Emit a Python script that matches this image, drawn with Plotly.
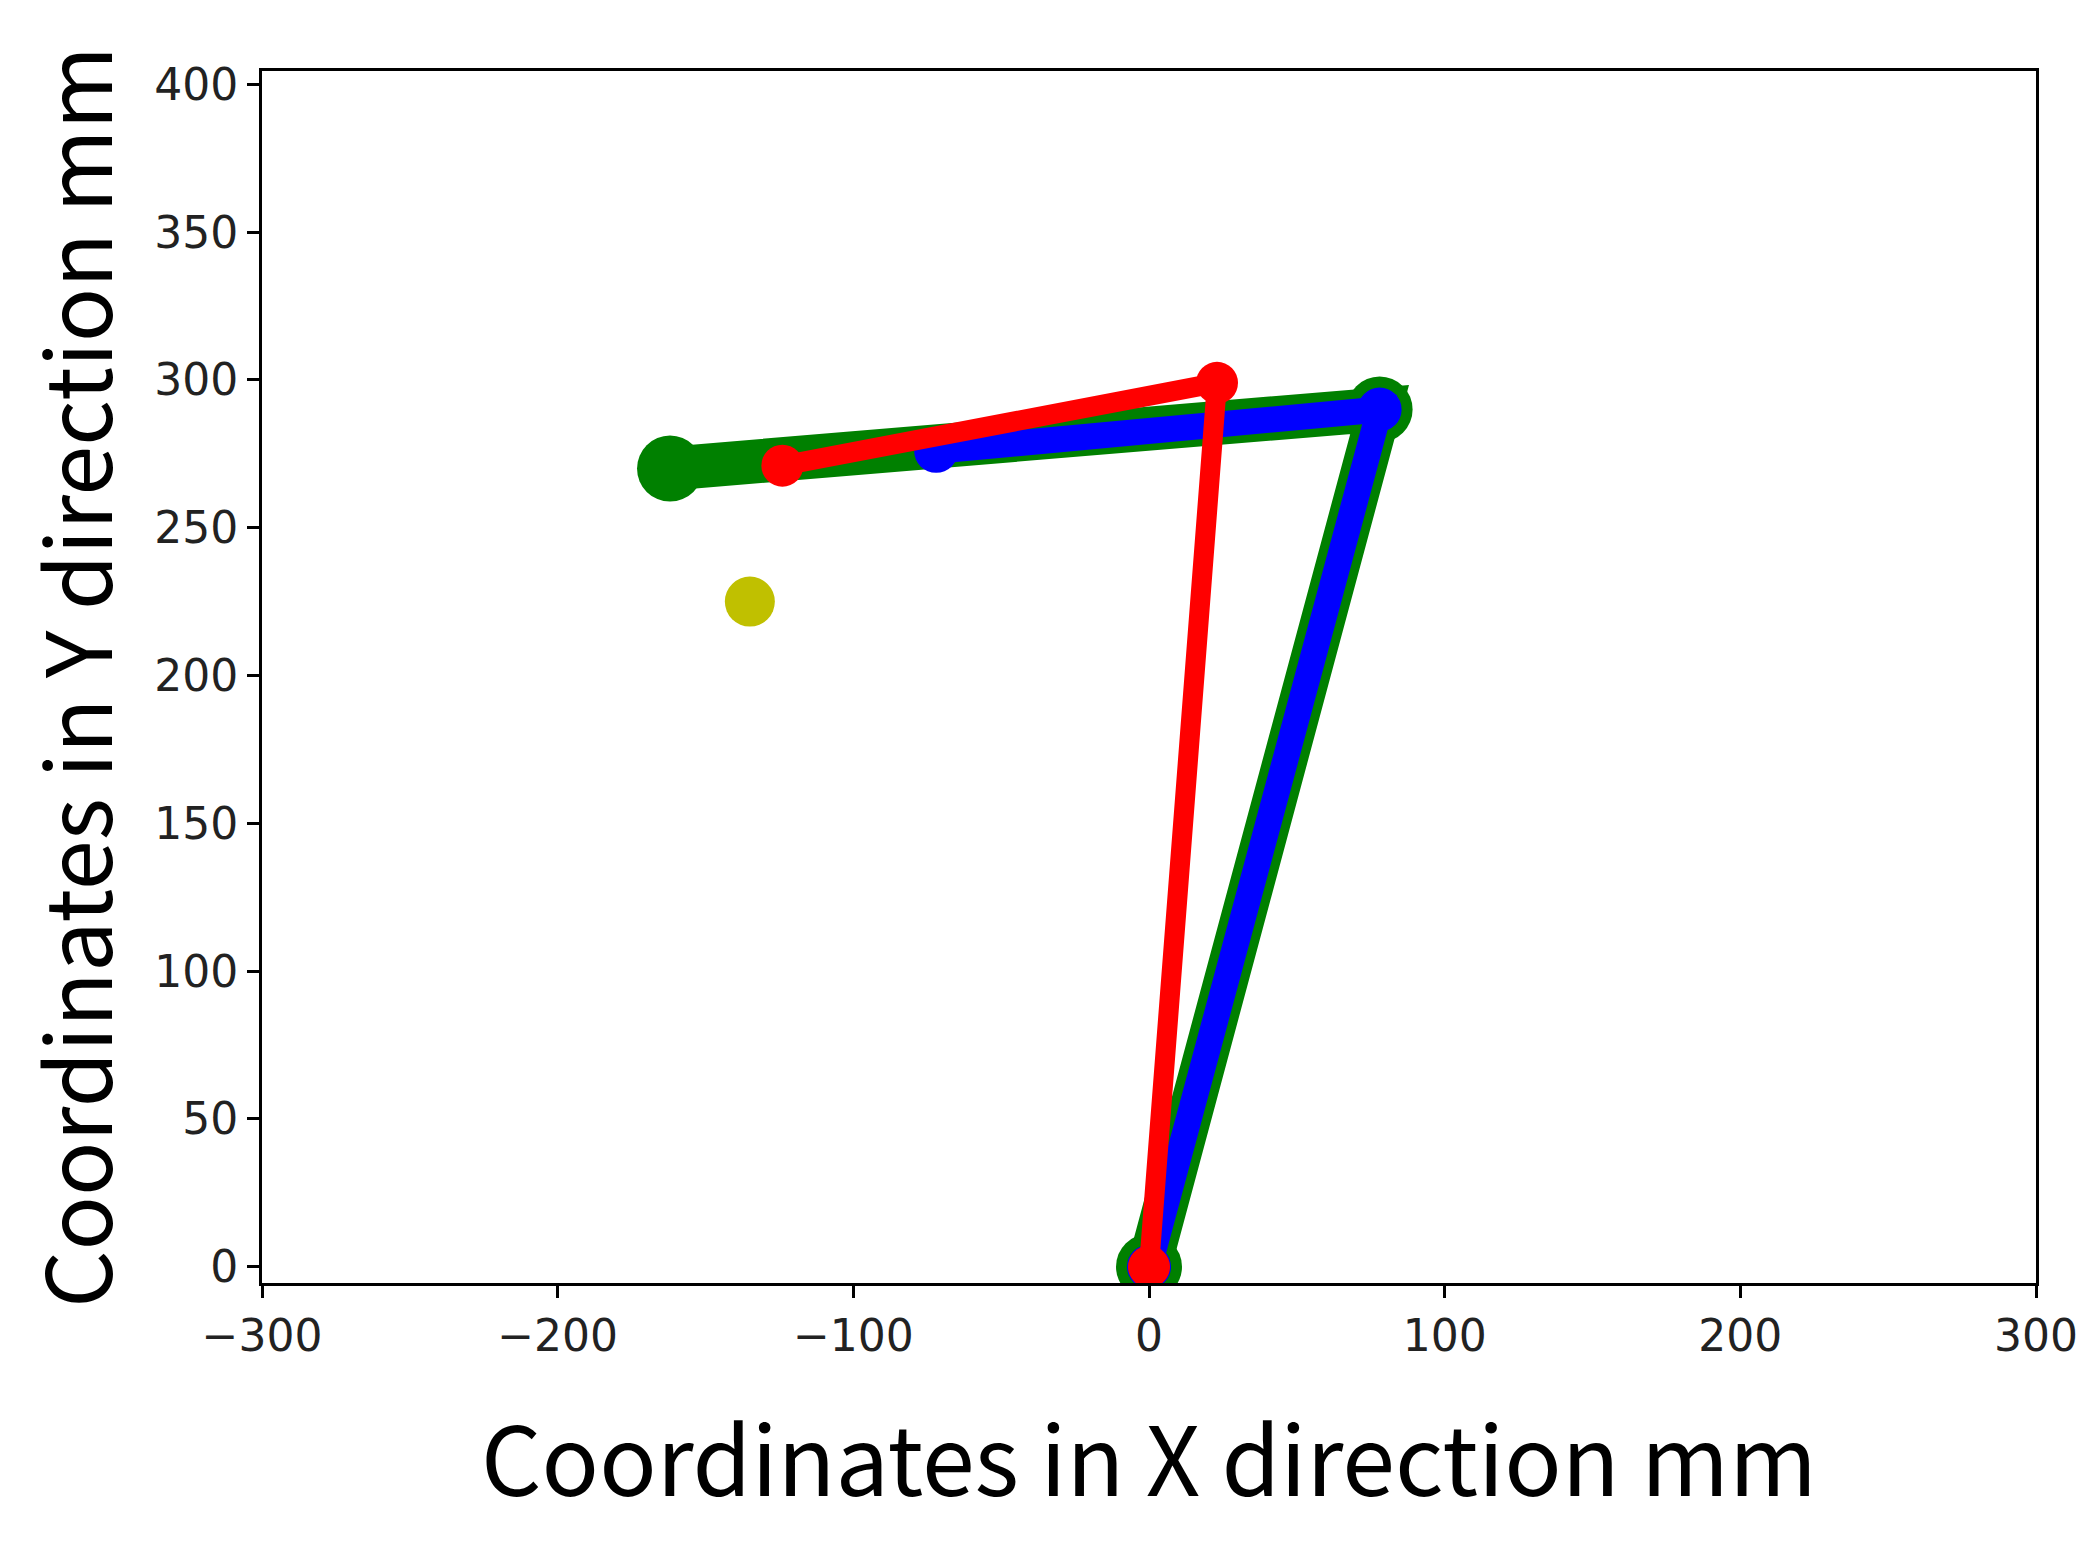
import plotly.graph_objects as go

green_x = [0, 78, -162]
green_y = [0, 290, 270]
blue_x = [0, 78, -72]
blue_y = [0, 290, 276]
red_x = [0, 23, -124]
red_y = [0, 299, 271]
yellow_x = [-135]
yellow_y = [225]

fig = go.Figure()
fig.add_trace(go.Scatter(x=green_x, y=green_y, mode="lines+markers",
                         line=dict(color="green", width=44), marker=dict(color="green", size=66)))
fig.add_trace(go.Scatter(x=blue_x, y=blue_y, mode="lines+markers",
                         line=dict(color="blue", width=26), marker=dict(color="blue", size=44)))
fig.add_trace(go.Scatter(x=red_x, y=red_y, mode="lines+markers",
                         line=dict(color="red", width=20), marker=dict(color="red", size=42)))
fig.add_trace(go.Scatter(x=yellow_x, y=yellow_y, mode="markers",
                         marker=dict(color="#c0c000", size=50)))

ax = dict(showgrid=False, zeroline=False, showline=True, mirror=True, linecolor="black", linewidth=3,
          ticks="outside", ticklen=12, tickwidth=3, tickcolor="black",
          tickfont=dict(family="DejaVu Sans", size=44, color="#222"))
fig.update_xaxes(range=[-300, 300], dtick=100, tickformat="d", **ax,
                 title=dict(text="Coordinates in X direction mm", standoff=70,
                            font=dict(family="Noto Sans CJK JP", size=95, color="black")))
fig.update_yaxes(range=[-5.5, 404.5], dtick=50, **ax,
                 title=dict(text="Coordinates in Y direction mm", standoff=14,
                            font=dict(family="Noto Sans CJK JP", size=90, color="black")))
fig.update_layout(width=2089, height=1561, showlegend=False,
                  plot_bgcolor="white", paper_bgcolor="white",
                  margin=dict(l=254, r=61, t=63, b=286))
fig.write_html("out.html")
